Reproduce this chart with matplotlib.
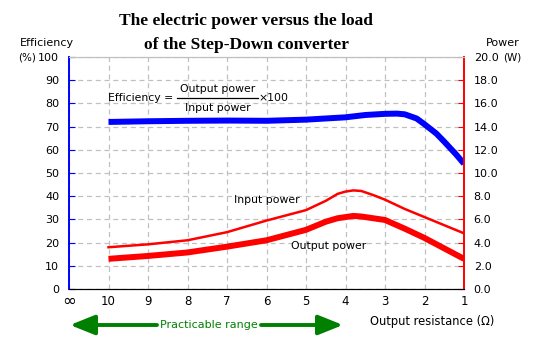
import numpy as np
import matplotlib.pyplot as plt
from matplotlib.patches import FancyArrowPatch

# данные
x_labels = ['∞', '10', '9', '8', '7', '6', '5', '4', '3', '2', '1']
r_eff = [10, 9, 8, 7, 6, 5, 4, 3.5, 3, 2.7, 2.5, 2.2, 2, 1.7, 1.5, 1.2, 1]
efficiency = [72, 72.3, 72.5, 72.6, 72.5, 73, 74, 75, 75.5, 75.6, 75.3, 73.5, 71, 67, 63.5, 58, 54]
r_pow = [10, 9, 8, 7, 6, 5, 4.5, 4.2, 4, 3.8, 3.6, 3.3, 3, 2.5, 2, 1.5, 1]
input_power = [3.6, 3.85, 4.2, 4.9, 5.9, 6.8, 7.6, 8.2, 8.4, 8.5, 8.45, 8.1, 7.7, 6.9, 6.2, 5.5, 4.8]
output_power = [2.6, 2.85, 3.15, 3.65, 4.2, 5.1, 5.8, 6.1, 6.2, 6.3, 6.25, 6.1, 5.95, 5.2, 4.4, 3.5, 2.6]

W, H = 537, 346
fig = plt.figure(figsize=(W / 100, H / 100), dpi=100, facecolor='white')
ax = fig.add_axes([69 / W, 1 - 289 / H, (464 - 69) / W, (289 - 57) / H])
ax2 = ax.twinx()

def pos(r):
    # позиция на оси: 10 Ом -> 1, 1 Ом -> 10
    return 11 - np.asarray(r, dtype=float)

ax.plot(pos(r_eff), efficiency, color='#0000FF', lw=4.3, solid_capstyle='butt', zorder=5)
ax2.plot(pos(r_pow), input_power, color='#FF0000', lw=1.8, zorder=5)
ax2.plot(pos(r_pow), output_power, color='#FF0000', lw=4.3, solid_capstyle='butt', zorder=5)

ax.set_xlim(0, 10)
ax.set_ylim(0, 100)
ax2.set_ylim(0, 20)
ax.set_xticks(range(11))
ax.set_xticklabels(x_labels)
ax.set_yticks(range(0, 101, 10))
ax.set_yticklabels([str(v) for v in range(0, 101, 10)])
ax2.set_yticks(np.arange(0, 20.1, 2))
ax2.set_yticklabels(['%.1f' % v for v in np.arange(0, 20.1, 2)])

ax.grid(True, color='#C0C0C0', ls=(0, (4, 3)), lw=0.9)
ax.set_axisbelow(True)
ax.tick_params(axis='x', length=0, pad=4, labelsize=8.5)
ax.tick_params(axis='y', direction='in', length=4, color='#0000FF', labelsize=8, pad=7)
ax2.tick_params(axis='y', direction='in', length=4, color='#FF0000', labelsize=8, pad=7)
# знак бесконечности крупнее
ax.get_xticklabels()[0].set_fontsize(12)
ax.get_xticklabels()[0].set_y(0.01)
for a in (ax, ax2):
    a.spines['top'].set_color('#C0C0C0')
    a.spines['bottom'].set_color('black')
    a.spines['left'].set_color('#0000FF')
    a.spines['right'].set_color('#FF0000')
    a.spines['left'].set_linewidth(1.2)
    a.spines['right'].set_linewidth(1.2)

# заголовок
fig.text(246 / W, 1 - 21 / H, 'The electric power versus the load', ha='center', va='center',
         family='Liberation Serif', weight='bold', fontsize=12.5)
fig.text(246 / W, 1 - 45 / H, 'of the Step-Down converter', ha='center', va='center',
         family='Liberation Serif', weight='bold', fontsize=12.5)

fig.text(47 / W, 1 - 43 / H, 'Efficiency', ha='center', va='center', fontsize=8)
fig.text(27 / W, 1 - 57 / H, '(%)', ha='center', va='center', fontsize=7.5)
fig.text(503 / W, 1 - 43 / H, 'Power', ha='center', va='center', fontsize=8)
fig.text(512 / W, 1 - 57 / H, '(W)', ha='center', va='center', fontsize=7.5)

# формула КПД
ax.text(0.98, 82.2, 'Efficiency =', ha='left', va='center', fontsize=7.8)
ax.text(3.76, 86.4, 'Output power', ha='center', va='center', fontsize=7.8)
ax.text(3.76, 78.0, 'Input power', ha='center', va='center', fontsize=7.8)
ax.plot([2.73, 4.78], [82.2, 82.2], color='black', lw=0.9)
ax.text(4.8, 82.2, '×100', ha='left', va='center', fontsize=7.8)

ax.text(5.0, 38.5, 'Input power', ha='center', va='center', fontsize=7.8)
ax.text(6.58, 18.5, 'Output power', ha='center', va='center', fontsize=7.8)

# диапазон
fig.text(209 / W, 1 - 325 / H, 'Practicable range', ha='center', va='center',
         color='#008000', fontsize=8)
arrow = dict(arrowstyle='-|>,head_length=1.5,head_width=0.6', color='#008000', lw=2.8,
             mutation_scale=10, shrinkA=0, shrinkB=0)
fig.add_artist(FancyArrowPatch((157 / W, 1 - 325 / H), (70 / W, 1 - 325 / H),
                               transform=fig.transFigure, **arrow))
fig.add_artist(FancyArrowPatch((261 / W, 1 - 325 / H), (343 / W, 1 - 325 / H),
                               transform=fig.transFigure, **arrow))
fig.text(432 / W, 1 - 322 / H, 'Output resistance (Ω)', ha='center', va='center', fontsize=8.3)

fig.savefig('out.png', dpi=100, facecolor='white')
